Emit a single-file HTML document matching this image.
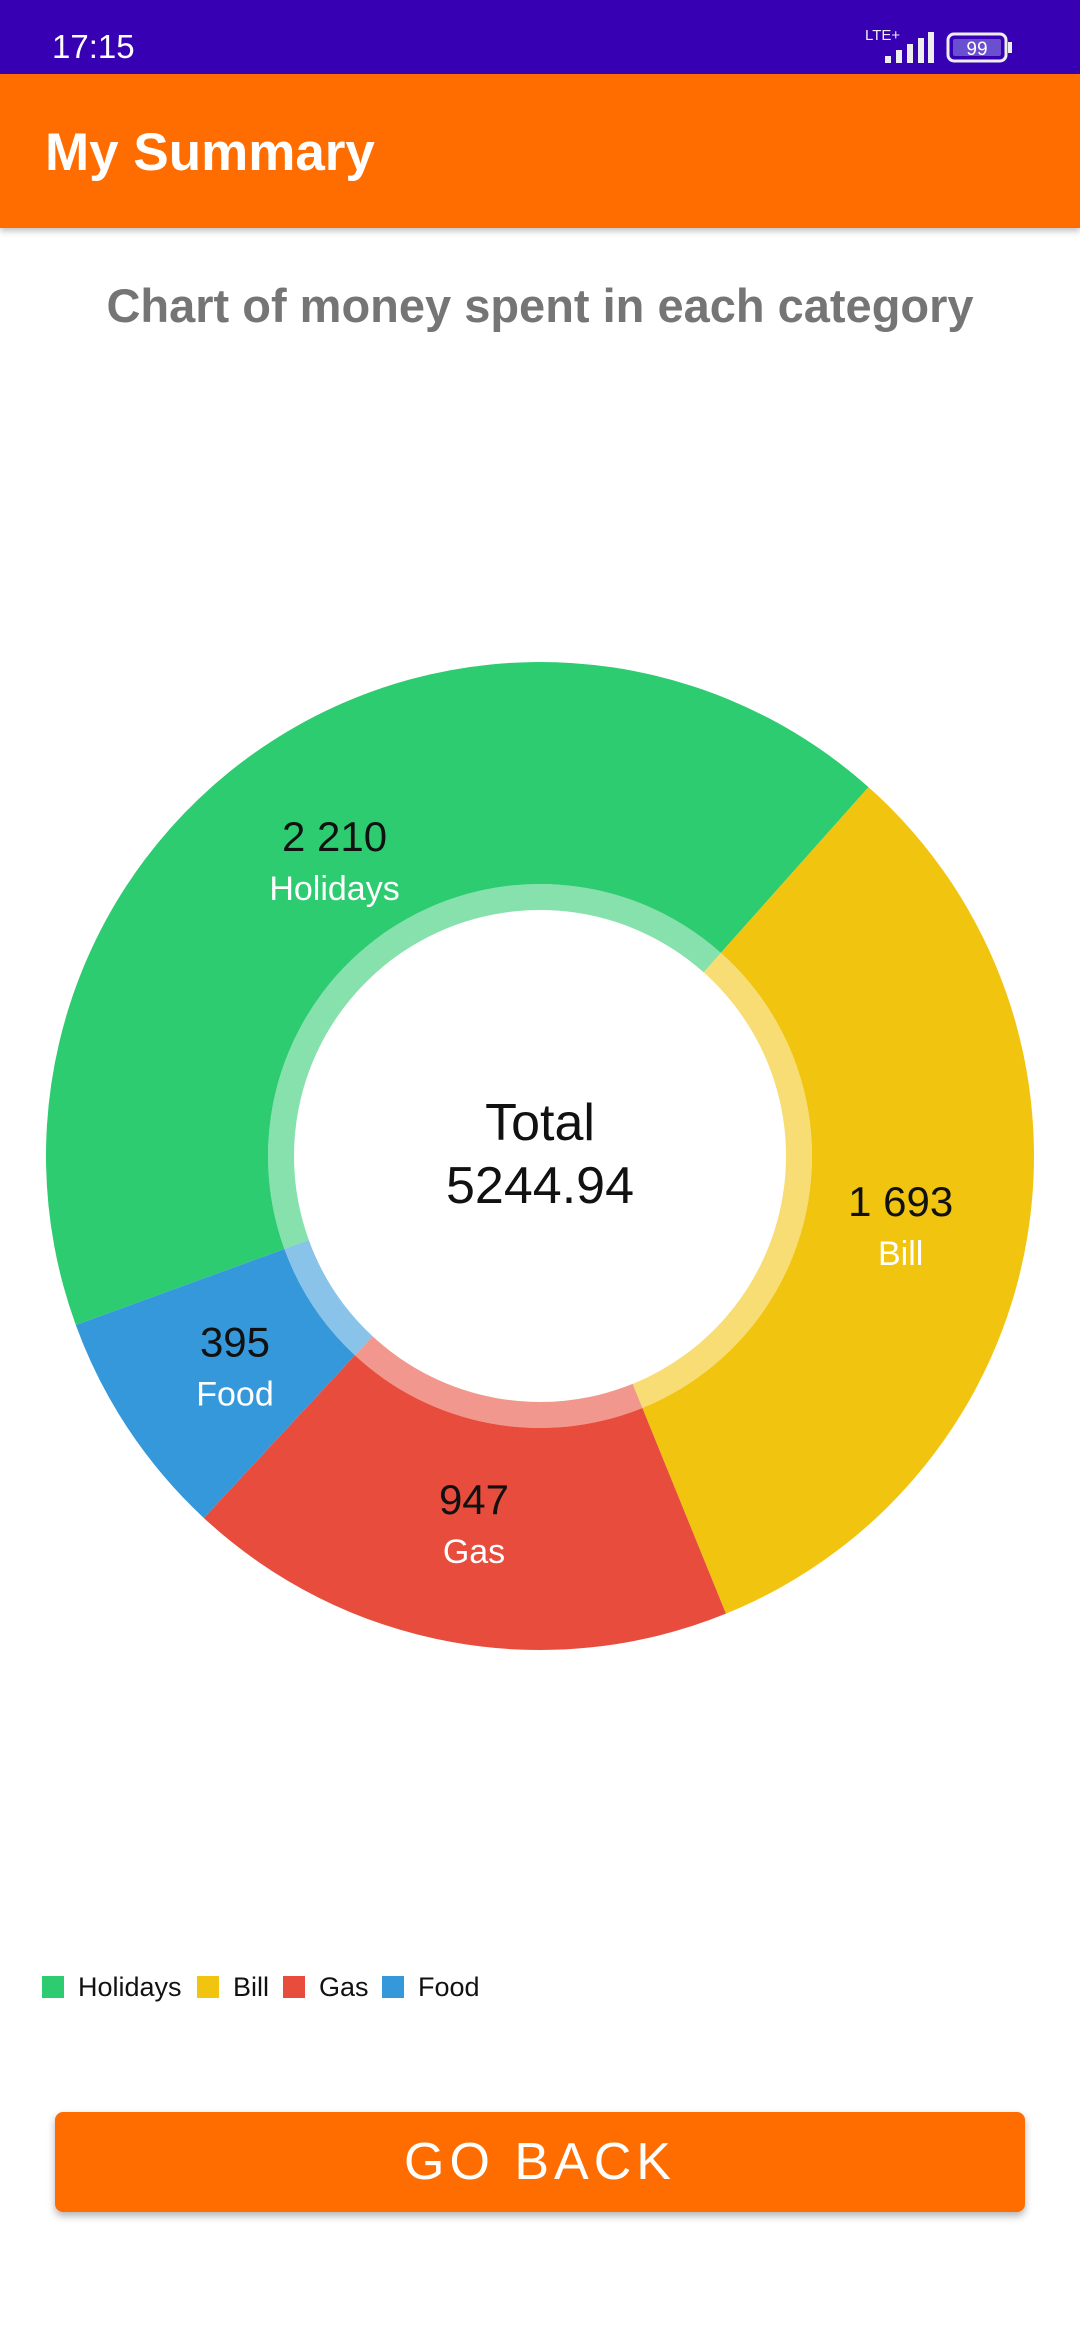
<!DOCTYPE html>
<html><head><meta charset="utf-8">
<style>
html,body{margin:0;padding:0;width:1080px;height:2340px;background:#fff;font-family:"Liberation Sans",sans-serif;overflow:hidden;position:relative}
#status{position:absolute;left:0;top:0;width:1080px;height:74px;background:#3700B3;}
#appbar{position:absolute;left:0;top:74px;width:1080px;height:154px;background:#FF6D00;box-shadow:0 3px 6px rgba(0,0,0,.25)}
</style></head><body>
<div id="status">
  <div style="position:absolute;left:52px;top:28px;color:#fff;font-size:33px;">17:15</div>
  <div style="position:absolute;left:865px;top:27px;color:#eee;font-size:15px;">LTE+</div>
  <svg style="position:absolute;left:865px;top:30px" width="70" height="35">
    <rect x="20" y="26" width="6" height="7" fill="#eee"/><rect x="31" y="20" width="6" height="13" fill="#eee"/>
    <rect x="42" y="14" width="6" height="19" fill="#eee"/><rect x="53" y="8" width="6" height="25" fill="#eee"/>
    <rect x="63" y="2" width="6" height="31" fill="#eee"/>
  </svg>
  <svg style="position:absolute;left:946px;top:32px" width="70" height="32">
    <rect x="2" y="2" width="58" height="27" rx="6" fill="none" stroke="#eee" stroke-width="3"/>
    <rect x="7" y="7" width="48" height="17" rx="2" fill="#6a4fd0"/>
    <rect x="62" y="10" width="4" height="11" fill="#eee"/>
    <text x="31" y="23" text-anchor="middle" font-size="19" fill="#fff" font-family="Liberation Sans">99</text>
  </svg>
</div>
<div id="appbar">
  <div style="position:absolute;left:45px;top:48px;color:#fff;font-size:53px;font-weight:bold;">My Summary</div>
</div>
<div style="position:absolute;left:0;width:1080px;top:278px;text-align:center;color:#757575;font-size:47px;font-weight:bold;">Chart of money spent in each category</div>

<svg id="chart" style="position:absolute;left:0;top:0" width="1080" height="1700"></svg>

<div style="position:absolute;left:0;top:1972px;font-size:27px;color:#111;">
  <span style="position:absolute;left:42px;top:0;white-space:nowrap"><i style="display:inline-block;width:22px;height:22px;background:#2ECC71;vertical-align:-2px;margin-right:14px"></i>Holidays</span>
  <span style="position:absolute;left:197px;top:0;white-space:nowrap"><i style="display:inline-block;width:22px;height:22px;background:#F1C40F;vertical-align:-2px;margin-right:14px"></i>Bill</span>
  <span style="position:absolute;left:283px;top:0;white-space:nowrap"><i style="display:inline-block;width:22px;height:22px;background:#E74C3C;vertical-align:-2px;margin-right:14px"></i>Gas</span>
  <span style="position:absolute;left:382px;top:0;white-space:nowrap"><i style="display:inline-block;width:22px;height:22px;background:#3498DB;vertical-align:-2px;margin-right:14px"></i>Food</span>
</div>

<div style="position:absolute;left:55px;top:2112px;width:970px;height:100px;background:#FF6D00;border-radius:8px;box-shadow:0 4px 8px rgba(0,0,0,.3);color:#fff;font-size:52px;letter-spacing:5px;text-align:center;line-height:100px;">GO BACK</div>

<script>
const categories = ["Holidays","Bill","Gas","Food"];
const values = [2210, 1693, 947, 395];
const valueLabels = ["2 210","1 693","947","395"];
const colors = ["#2ECC71","#F1C40F","#E74C3C","#3498DB"];
const totalLabel = "5244.94";

const svg = document.getElementById('chart');
const NS = 'http://www.w3.org/2000/svg';
const cx = 540, cy = 1156, R = 494, Rring = 272, Rhole = 246, Rlab = 366;
const startDeg = -110;
const total = values.reduce((a,b)=>a+b,0);
function pt(r, deg){ const a = deg*Math.PI/180; return [cx + r*Math.sin(a), cy - r*Math.cos(a)]; }
function arc(r0, r1, a0, a1){
  const large = (a1-a0) > 180 ? 1 : 0;
  const p0 = pt(r1,a0), p1 = pt(r1,a1), p2 = pt(r0,a1), p3 = pt(r0,a0);
  return `M${p0[0]},${p0[1]} A${r1},${r1} 0 ${large} 1 ${p1[0]},${p1[1]} L${p2[0]},${p2[1]} A${r0},${r0} 0 ${large} 0 ${p3[0]},${p3[1]} Z`;
}
let acc = startDeg;
values.forEach((v,i)=>{
  const span = v/total*360;
  const a0 = acc, a1 = acc + span; acc = a1;
  const p = document.createElementNS(NS,'path');
  p.setAttribute('d', arc(Rring, R, a0, a1));
  p.setAttribute('fill', colors[i]);
  
  
  svg.appendChild(p);
  const q = document.createElementNS(NS,'path');
  q.setAttribute('d', arc(Rhole, Rring, a0, a1));
  q.setAttribute('fill', colors[i]);
  q.setAttribute('fill-opacity', '0.58');
  
  
  svg.appendChild(q);
  const m = pt(Rlab, (a0+a1)/2);
  const t1 = document.createElementNS(NS,'text');
  t1.setAttribute('x', m[0]); t1.setAttribute('y', m[1]-2);
  t1.setAttribute('text-anchor','middle'); t1.setAttribute('font-size','42');
  t1.setAttribute('fill','#111'); t1.setAttribute('font-family','Liberation Sans');
  t1.textContent = valueLabels[i];
  
  
  svg.appendChild(t1);
  const t2 = document.createElementNS(NS,'text');
  t2.setAttribute('x', m[0]); t2.setAttribute('y', m[1]+47);
  t2.setAttribute('text-anchor','middle'); t2.setAttribute('font-size','34');
  t2.setAttribute('fill','#fff'); t2.setAttribute('font-family','Liberation Sans');
  t2.textContent = categories[i];
  
  
  svg.appendChild(t2);
});
const c1 = document.createElementNS(NS,'text');
c1.setAttribute('x', cx); c1.setAttribute('y', 1140);
c1.setAttribute('text-anchor','middle'); c1.setAttribute('font-size','52');
c1.setAttribute('fill','#111'); c1.setAttribute('font-family','Liberation Sans');
c1.textContent = 'Total';


svg.appendChild(c1);
const c2 = document.createElementNS(NS,'text');
c2.setAttribute('x', cx); c2.setAttribute('y', 1203);
c2.setAttribute('text-anchor','middle'); c2.setAttribute('font-size','52');
c2.setAttribute('fill','#111'); c2.setAttribute('font-family','Liberation Sans');
c2.textContent = totalLabel;


svg.appendChild(c2);
</script>
</body></html>
